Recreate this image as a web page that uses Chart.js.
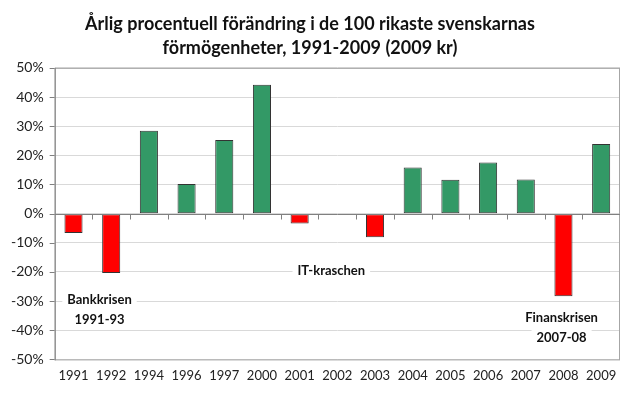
<!DOCTYPE html>
<html>
<head>
<meta charset="utf-8">
<script src="https://cdn.jsdelivr.net/npm/chart.js@4.4.0/dist/chart.umd.min.js"></script>
<style>
  html, body { margin: 0; padding: 0; background: #fff; }
  #wrap { width: 640px; height: 393px; }
</style>
</head>
<body>
<div id="wrap"><canvas id="myChart" width="640" height="393"></canvas></div>
<script>
// data
var years = ["1991", "1992", "1994", "1996", "1997", "2000", "2001", "2002", "2003", "2004", "2005", "2006", "2007", "2008", "2009"];
var change = [-6.6, -20.4, 28.4, 10.2, 25.3, 44.2, -3.4, -0.3, -8.1, 15.8, 11.6, 17.5, 11.7, -28.3, 23.9];
var yTicks = [-50, -40, -30, -20, -10, 0, 10, 20, 30, 40, 50];

// crisis notes: [category position, value, lines]
var notes = [
    [0.69, -29.5, ["Bankkrisen", "1991-93"]],
    [6.84, -19.5, ["IT-kraschen"]],
    [12.95, -35.6, ["Finanskrisen", "2007-08"]]
];

var FONT = "Lato, 'Open Sans', sans-serif";

var barColors = change.map(v => v < 0 ? "#ff0000" : "#339966");

var extras = {
    id: "extras",
    beforeDatasetsDraw(chart) {
        const ctx = chart.ctx;
        const x = chart.scales.x, y = chart.scales.y;
        ctx.save();
        // notes sit on white boxes over the gridlines
        ctx.font = "bold 13px " + FONT;
        ctx.textAlign = "center";
        ctx.textBaseline = "middle";
        notes.forEach(n => {
            let cx = x.getPixelForValue(n[0]);
            let cy = y.getPixelForValue(n[1]);
            n[2].forEach((line, i) => {
                let ly = cy + i * 20;
                let w = ctx.measureText(line).width;
                ctx.fillStyle = "#fff";
                ctx.fillRect(cx - w / 2 - 5, ly - 9, w + 10, 18);
                ctx.fillStyle = "#111";
                ctx.fillText(line, cx, ly);
            });
        });
        ctx.restore();
    },
    afterDatasetsDraw(chart) {
        const ctx = chart.ctx;
        const a = chart.chartArea;
        const x = chart.scales.x, y = chart.scales.y;
        ctx.save();
        // plot border
        ctx.strokeStyle = "#a6a6a6";
        ctx.lineWidth = 1;
        ctx.strokeRect(a.left + 0.5, a.top + 0.5, a.right - a.left - 1, a.bottom - a.top);
        // zero line with tick marks between categories
        let y0 = Math.round(y.getPixelForValue(0)) + 0.5;
        ctx.strokeStyle = "#808080";
        ctx.beginPath();
        ctx.moveTo(a.left, y0);
        ctx.lineTo(a.right, y0);
        for (let i = 1; i < years.length; i++) {
            let tx = Math.round(x.getPixelForValue(i - 0.5)) + 0.5;
            ctx.moveTo(tx, y0);
            ctx.lineTo(tx, y0 + 5);
        }
        ctx.stroke();
        // left axis
        ctx.beginPath();
        ctx.moveTo(a.left + 0.5, a.top);
        ctx.lineTo(a.left + 0.5, a.bottom + 1);
        yTicks.forEach(t => {
            let ty = Math.round(y.getPixelForValue(t)) + 0.5;
            ctx.moveTo(a.left - 5, ty);
            ctx.lineTo(a.left, ty);
        });
        ctx.stroke();
        ctx.restore();
    }
};

const CHART = document.getElementById("myChart");
let myChart = new Chart(CHART, {
    type: "bar",
    data: {
        labels: years,
        datasets: [{
            data: change,
            backgroundColor: barColors,
            borderColor: "#333333",
            borderWidth: 1,
            borderSkipped: false,
            barPercentage: 0.48,
            categoryPercentage: 1
        }]
    },
    options: {
        responsive: false,
        animation: false,
        devicePixelRatio: 1,
        layout: { padding: { left: 0, right: 20, top: 0, bottom: 0 } },
        plugins: {
            legend: { display: false },
            tooltip: { enabled: false },
            title: {
                display: true,
                text: ["Årlig procentuell förändring i de 100 rikaste svenskarnas", "förmögenheter, 1991-2009 (2009 kr)"],
                color: "#111",
                font: { family: FONT, size: 18, weight: "bold", lineHeight: 1.33 },
                padding: { top: 12, bottom: 8 }
            }
        },
        scales: {
            x: {
                grid: { display: false, drawTicks: false },
                border: { display: false },
                ticks: { color: "#222", font: { family: FONT, size: 13 }, padding: 9, maxRotation: 0 }
            },
            y: {
                min: -50,
                max: 50,
                afterBuildTicks(axis) { axis.ticks = yTicks.map(v => ({ value: v })); },
                grid: { color: "#d9d9d9", drawTicks: false },
                border: { display: false },
                ticks: {
                    color: "#222",
                    font: { family: FONT, size: 14 },
                    padding: 11,
                    callback: v => v + "%"
                }
            }
        }
    },
    plugins: [extras]
});
</script>
</body>
</html>
